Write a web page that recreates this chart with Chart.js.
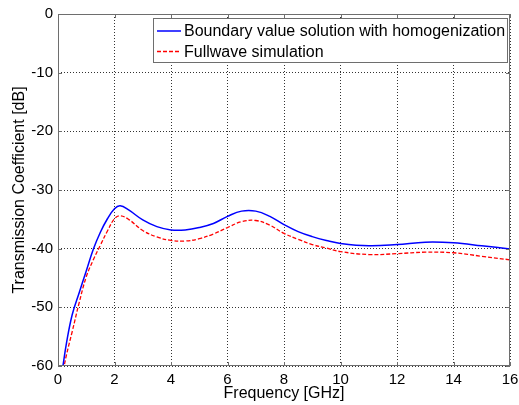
<!DOCTYPE html>
<html>
<head>
<meta charset="utf-8">
<script src="https://cdn.jsdelivr.net/npm/chart.js@4"></script>
<style>
  html, body { margin: 0; padding: 0; background: #fff; }
  #chart { display: block; }
</style>
</head>
<body>
<canvas id="chart" width="519" height="405"></canvas>
<script>
// frequency points in GHz
const freq = [0.15, 0.3, 0.5, 0.75, 1, 1.25, 1.5, 1.75, 2, 2.2, 2.5, 3, 3.5, 4, 4.5, 5, 5.5, 6, 6.5, 7, 7.5, 8, 8.5, 9, 9.5, 10, 11, 12, 13, 14, 15, 16];

// boundary value solution (blue)
const boundary = [-60.8, -56.1, -51.3, -47.5, -43.8, -40.1, -37.2, -34.9, -33.2, -32.7, -33.4, -35.1, -36.25, -36.8, -36.8, -36.4, -35.7, -34.5, -33.6, -33.6, -34.5, -35.9, -37.1, -37.95, -38.6, -39.1, -39.5, -39.3, -38.9, -39.0, -39.5, -40.05];

// fullwave simulation (red)
const fullwave = [-61.7, -58.1, -54.2, -49.2, -44.8, -41.9, -39.4, -37.0, -34.9, -34.4, -35.0, -36.9, -38.0, -38.6, -38.7, -38.3, -37.5, -36.4, -35.4, -35.2, -36.0, -37.4, -38.4, -39.3, -39.9, -40.5, -41.0, -40.85, -40.6, -40.7, -41.3, -41.9];

const labels = ['Boundary value solution with homogenization', 'Fullwave simulation'];
const xTicks = [0, 2, 4, 6, 8, 10, 12, 14, 16];
const yTicks = [-60, -50, -40, -30, -20, -10, 0];

const font = 'Liberation Sans, Arial, sans-serif';

function toPoints(xs, ys) {
    return xs.map(function (x, i) { return {x: x, y: ys[i]}; });
}

// box round the plot, inward tick marks and legend inside the axes
const matlabBox = {
    id: 'matlabBox',
    afterDatasetsDraw: function (chart) {
        const ctx = chart.ctx;
        const a = chart.chartArea;
        const xs = chart.scales.x, ys = chart.scales.y;
        ctx.save();
        ctx.strokeStyle = '#6e6e6e';
        ctx.lineWidth = 1;
        ctx.strokeRect(a.left + 0.5, a.top + 0.5, a.right - a.left - 1, a.bottom - a.top - 1);
        ctx.beginPath();
        xTicks.forEach(function (v) {
            const px = Math.round(xs.getPixelForValue(v)) + 0.5;
            ctx.moveTo(px, a.bottom); ctx.lineTo(px, a.bottom - 4);
            ctx.moveTo(px, a.top); ctx.lineTo(px, a.top + 4);
        });
        yTicks.forEach(function (v) {
            const py = Math.round(ys.getPixelForValue(v)) + 0.5;
            ctx.moveTo(a.left, py); ctx.lineTo(a.left + 4, py);
            ctx.moveTo(a.right, py); ctx.lineTo(a.right - 4, py);
        });
        ctx.stroke();

        // legend
        const bx = 153.5, by = 18.5, bw = 354, bh = 44;
        ctx.fillStyle = '#fff';
        ctx.fillRect(bx, by, bw, bh);
        ctx.strokeStyle = '#6e6e6e';
        ctx.strokeRect(bx, by, bw, bh);
        ctx.font = '16px ' + font;
        ctx.textBaseline = 'middle';
        ctx.textAlign = 'left';
        chart.data.datasets.forEach(function (ds, i) {
            const y = 31 + i * 20.5;
            ctx.strokeStyle = ds.borderColor;
            ctx.lineWidth = ds.borderWidth;
            ctx.setLineDash(ds.borderDash || []);
            ctx.beginPath();
            ctx.moveTo(157, y); ctx.lineTo(181, y);
            ctx.stroke();
            ctx.setLineDash([]);
            ctx.fillStyle = '#000';
            ctx.fillText(ds.label, 184, y + 1);
        });
        ctx.restore();
    }
};

new Chart(document.getElementById('chart'), {
    type: 'line',
    data: {
        datasets: [{
            label: labels[0],
            data: toPoints(freq, boundary),
            borderColor: '#0000ff',
            borderWidth: 1.5,
            pointRadius: 0,
            tension: 0.4,
            fill: false
        }, {
            label: labels[1],
            data: toPoints(freq, fullwave),
            borderColor: '#ff0000',
            borderWidth: 1.3,
            borderDash: [4, 2],
            pointRadius: 0,
            tension: 0.4,
            fill: false
        }]
    },
    options: {
        responsive: false,
        animation: false,
        devicePixelRatio: 1,
        layout: { padding: { top: 14, right: 9, left: 0, bottom: 0 } },
        plugins: {
            legend: { display: false },
            tooltip: { enabled: false }
        },
        scales: {
            x: {
                type: 'linear',
                min: 0, max: 16,
                afterBuildTicks: function (s) { s.ticks = xTicks.map(function (v) { return {value: v}; }); },
                afterFit: function (s) { s.height = 39; s.paddingRight = 0; s.paddingLeft = 0; },
                grid: { color: '#333', drawTicks: false, lineWidth: 1 },
                border: { display: false, dash: [1, 2] },
                ticks: { color: '#000', font: { family: font, size: 15 }, padding: 5, maxRotation: 0 },
                title: { display: true, text: 'Frequency [GHz]', color: '#000', font: { family: font, size: 16 }, padding: { top: 0, bottom: 2 } }
            },
            y: {
                min: -60, max: 0,
                afterBuildTicks: function (s) { s.ticks = yTicks.map(function (v) { return {value: v}; }); },
                afterFit: function (s) { s.width = 58; s.paddingTop = 0; s.paddingBottom = 0; },
                grid: { color: '#333', drawTicks: false, lineWidth: 1 },
                border: { display: false, dash: [1, 2] },
                ticks: { color: '#000', font: { family: font, size: 15 }, padding: 5 },
                title: { display: true, text: 'Transmission Coefficient [dB]', color: '#000', font: { family: font, size: 16 }, padding: { top: 10, bottom: 0 } }
            }
        }
    },
    plugins: [matlabBox]
});
</script>
</body>
</html>
